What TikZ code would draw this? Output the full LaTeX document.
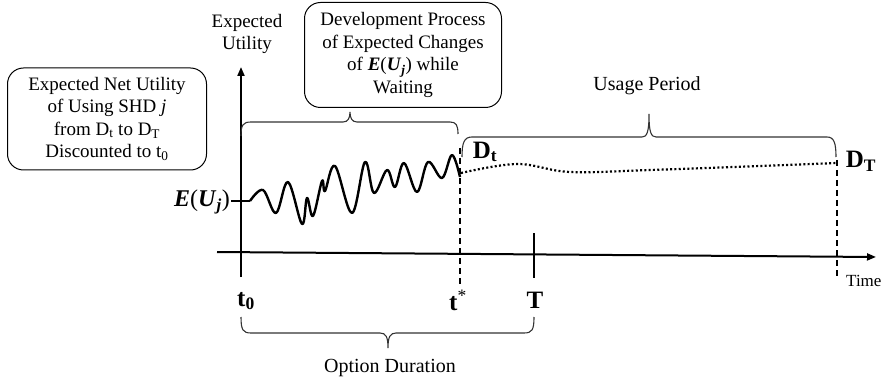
\documentclass[tikz,border=0pt]{standalone}
\usepackage{fontspec}
\setmainfont{Liberation Serif}
\usetikzlibrary{arrows.meta}
\begin{document}
\begin{tikzpicture}[x=1pt,y=-1pt,
  txt/.style={font=\fontsize{19}{22.5}\selectfont, align=center, inner sep=0pt},
  bigbold/.style={font=\fontsize{25}{28}\selectfont\bfseries, inner sep=0pt},
  roundbox/.style={draw, line width=1pt, rounded corners=16pt, txt},
  axisline/.style={line width=2pt},
  brc/.style={line width=1.1pt, draw=black!80},
  wave/.style={line width=2.4pt, line join=round},
  vdash/.style={line width=2pt, dash pattern=on 6pt off 4pt},
  vdot/.style={line width=2.2pt, dash pattern=on 2pt off 2.3pt}]
\useasboundingbox (0,0) rectangle (882,387);
% coordinates
\coordinate (ybot) at (241,277);
\coordinate (ytop) at (241,67);
\coordinate (xl) at (217,252);
\coordinate (xr) at (876,257);
\coordinate (Ttop) at (534,233);
\coordinate (Tbot) at (534,278);
\coordinate (tsTop) at (460,148);
\coordinate (tsBot) at (460,285);
\coordinate (dTtop) at (837,160);
\coordinate (dTbot) at (837,277);
\coordinate (euA) at (231,201);
\coordinate (euB) at (250,201);
% axes
\draw[axisline, -{Triangle[length=9pt,width=7pt]}] (ybot) -- (ytop);
\draw[axisline, -{Triangle[length=9pt,width=7pt]}] (xl) -- (xr);
\draw[axisline] (Ttop) -- (Tbot);
\draw[line width=1.6pt] (euA) -- (euB);
% dashed verticals
\draw[vdash] (tsTop) -- (tsBot);
\draw[vdash] (dTtop) -- (dTbot);
% wave
\draw[wave] plot[smooth, tension=0.6] coordinates {(250,201) (263,190) (276,213) (288,182) (302,224) (307,198) (313,216) (322,181) (325,191) (335,166) (352,213) (365,162) (374,193) (387,170) (395,187) (404,163) (417,192) (428,162) (442,178) (452,155) (460,177)};
% dotted continuation
\draw[vdot] plot[smooth, tension=0.6] coordinates {(461,173) (517,164) (570,172) (650,170) (760,166) (837,163)};
% braces
\draw[brc] (241,136) .. controls (241,125) and (243,122) .. (251,122) -- (343,122)
  .. controls (348,122) and (350,118) .. (350,112)
  .. controls (350,118) and (352,122) .. (357,122) -- (450,122)
  .. controls (456,122) and (458,125) .. (458,134);
\draw[brc] (462,157) .. controls (462,143) and (464,137) .. (472,137) -- (642,137)
  .. controls (647,137) and (649,132) .. (649,114)
  .. controls (649,132) and (651,137) .. (656,137) -- (827,137)
  .. controls (834,137) and (836,143) .. (836,157);
\draw[brc] (241,317) .. controls (241,330) and (243,333) .. (251,333) -- (380,333)
  .. controls (386,333) and (388,337) .. (388,348)
  .. controls (388,337) and (390,333) .. (396,333) -- (524,333)
  .. controls (532,333) and (534,330) .. (534,317);
% boxes
\node[roundbox, minimum width=199pt, minimum height=102pt] (box1) at (107,119)
  {Expected Net Utility\\ of Using SHD \textit{j}\\ from D\textsubscript{t} to D\textsubscript{T}\\ Discounted to t\textsubscript{0}};
\node[roundbox, minimum width=197pt, minimum height=105pt] (box2) at (403,55)
  {Development Process\\ of Expected Changes\\ of \textbf{\textit{E}}(\textbf{\textit{U}}\textsubscript{\textbf{\textit{j}}}) while\\ Waiting};
% labels
\node[txt] (ylab) at (247,34) {Expected\\ Utility};
\node[txt, font=\fontsize{20}{22}\selectfont] (uselab) at (647,86) {Usage Period};
\node[txt, font=\fontsize{20}{22}\selectfont] (optlab) at (390,368) {Option Duration};
\node[txt, anchor=west, font=\fontsize{17}{20}\selectfont] (timelab) at (846,281) {Time};
\node[bigbold] (Dt) at (485,152) {D\textsubscript{t}};
\node[bigbold] (DT) at (861,161) {D\textsubscript{T}};
\node[bigbold] (t0) at (246,301) {t\textsubscript{0}};
\node[bigbold] (tstar) at (458,300) {t\textsuperscript{\mdseries *}};
\node[bigbold] (Tl) at (535,300) {T};
\node[bigbold, anchor=east, font=\fontsize{24}{28}\selectfont] (EU) at (230,202) {\textbf{\textit{E}}\textmd{(}\textbf{\textit{U}}\textsubscript{\textbf{\textit{j}}}\textmd{)}};
\end{tikzpicture}
\end{document}
